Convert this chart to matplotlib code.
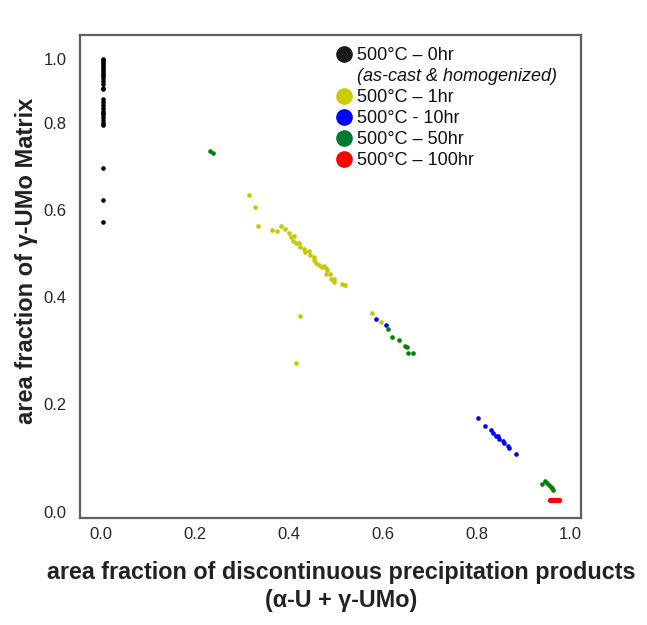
import numpy as np
import matplotlib
matplotlib.use("Agg")
import matplotlib.pyplot as plt
from matplotlib.lines import Line2D

plt.rcParams['font.family'] = ['Liberation Sans', 'DejaVu Sans']

# ---------------- data ----------------
x_0hr = [0.004] * 29
y_0hr = [1.0, 0.997, 0.991, 0.984, 0.978, 0.972, 0.966, 0.959, 0.953, 0.947,
         0.941, 0.931, 0.922, 0.909, 0.875, 0.866, 0.856, 0.847, 0.838, 0.828,
         0.819, 0.809, 0.800, 0.795, 0.697, 0.623, 0.572, 0.905, 0.83]

x_1hr = [0.316, 0.328, 0.334, 0.364, 0.374, 0.384, 0.391, 0.400, 0.405, 0.412,
         0.408, 0.415, 0.422, 0.425, 0.433, 0.434, 0.444, 0.445, 0.453, 0.454,
         0.458, 0.465, 0.471, 0.475, 0.480, 0.481, 0.479, 0.488, 0.490, 0.497,
         0.497, 0.514, 0.519, 0.424, 0.416, 0.578, 0.596]
y_1hr = [0.634, 0.607, 0.563, 0.554, 0.552, 0.563, 0.556, 0.547, 0.537, 0.540,
         0.529, 0.523, 0.523, 0.514, 0.511, 0.503, 0.506, 0.497, 0.492, 0.484,
         0.478, 0.474, 0.470, 0.472, 0.467, 0.462, 0.453, 0.454, 0.442, 0.441,
         0.434, 0.431, 0.427, 0.364, 0.277, 0.370, 0.353]

x_10hr = [0.586, 0.607, 0.803, 0.819, 0.832, 0.836, 0.842, 0.847, 0.849, 0.857,
          0.859, 0.867, 0.870, 0.885]
y_10hr = [0.358, 0.348, 0.175, 0.160, 0.151, 0.147, 0.141, 0.141, 0.136, 0.131,
          0.127, 0.122, 0.118, 0.108]

x_50hr = [0.233, 0.239, 0.611, 0.621, 0.635, 0.648, 0.653, 0.654, 0.664,
          0.940, 0.947, 0.950, 0.955, 0.959, 0.962, 0.964]
y_50hr = [0.736, 0.730, 0.340, 0.325, 0.320, 0.309, 0.307, 0.296, 0.296,
          0.052, 0.057, 0.054, 0.050, 0.047, 0.044, 0.041]

x_100hr = [0.957, 0.961, 0.965, 0.969, 0.973, 0.977]
y_100hr = [0.022, 0.022, 0.022, 0.022, 0.022, 0.022]

tick_vals = [0.0, 0.2, 0.4, 0.6, 0.8, 1.0]
tick_labels = ["0.0", "0.2", "0.4", "0.6", "0.8", "1.0"]

legend_labels = ["500°C – 0hr", "(as-cast & homogenized)", "500°C – 1hr",
                 "500°C - 10hr", "500°C – 50hr", "500°C – 100hr"]

# ---------------- non-linear y scale (as in the original axis) ----------------
_yv = np.array([-1.0, 0.0, 0.2, 0.4, 0.6, 0.8, 1.0, 2.0])
_yt = np.array([-540.0, 0.0, 108.0, 215.0, 302.0, 389.0, 453.0, 773.0])


def fwd(v):
    return np.interp(v, _yv, _yt)


def inv(t):
    return np.interp(t, _yt, _yv)


# ---------------- figure ----------------
fig = plt.figure(figsize=(6.47, 6.25), dpi=100)
ax = fig.add_axes([80 / 647, 1 - 518 / 625, 501 / 647, 483 / 625])
ax.set_yscale('function', functions=(fwd, inv))

ms = 11
ax.scatter(x_0hr, y_0hr, s=ms, color='#000000', linewidths=0)
ax.scatter(x_1hr, y_1hr, s=ms, color='#c8c800', linewidths=0)
ax.scatter(x_10hr, y_10hr, s=ms, color='#0000ff', linewidths=0)
ax.scatter(x_50hr, y_50hr, s=ms, color='#008000', linewidths=0)
ax.scatter(x_100hr, y_100hr, s=ms + 4, color='#ff0000', linewidths=0)

ax.set_xlim(-0.045, 1.023)
ax.set_ylim(inv(-6), inv(477))
ax.set_xticks(tick_vals)
ax.set_xticklabels(tick_labels)
ax.set_yticks(tick_vals)
ax.set_yticklabels(tick_labels)
ax.yaxis.set_minor_locator(matplotlib.ticker.NullLocator())
ax.tick_params(axis='both', length=0, labelsize=12, colors='#262626')
ax.tick_params(axis='y', pad=9.5)
ax.tick_params(axis='x', pad=6.5)

for sp in ax.spines.values():
    sp.set_color('#5f5f63')
    sp.set_linewidth(1.6)

fig.text(341 / 647, 1 - 573 / 625,
         "area fraction of discontinuous precipitation products",
         ha='center', va='center', fontsize=16.8, fontweight='bold', color='#222222')
fig.text(341 / 647, 1 - 600 / 625, "(α-U + γ-UMo)",
         ha='center', va='center', fontsize=16.8, fontweight='bold', color='#222222')
fig.text(27 / 647, 1 - 261 / 625, "area fraction of γ-UMo Matrix",
         ha='center', va='center', rotation=90, fontsize=17, fontweight='bold',
         color='#222222')

# legend
leg_colors = ['#1a1a1a', None, '#cccc00', '#0000ff', '#007a33', '#ff0000']
handles = []
for c in leg_colors:
    if c is None:
        handles.append(Line2D([], [], linestyle='none', marker=None))
    else:
        handles.append(Line2D([], [], linestyle='none', marker='o', markersize=12,
                              markerfacecolor=c, markeredgewidth=0))
leg = ax.legend(handles, legend_labels, loc='upper left',
                bbox_to_anchor=(335 / 647, 1 - 47 / 625), bbox_transform=fig.transFigure,
                frameon=False, fontsize=13, handlelength=1.0, handletextpad=0.2,
                borderpad=0, borderaxespad=0, labelspacing=0.22)
for t in leg.get_texts():
    t.set_color('#111111')
leg.get_texts()[1].set_fontstyle('italic')

fig.savefig("out.png", dpi=100)
